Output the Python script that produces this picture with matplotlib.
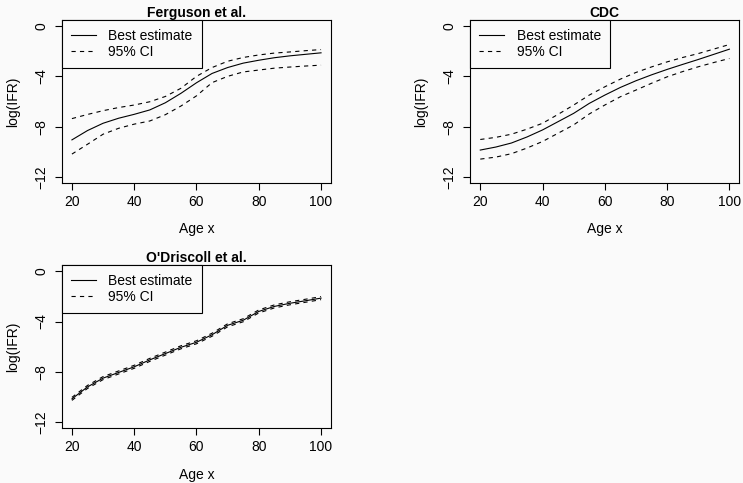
import matplotlib
matplotlib.use("Agg")
import matplotlib.pyplot as plt
import numpy as np

plt.rcParams["font.family"] = ["Liberation Sans", "DejaVu Sans"]
plt.rcParams["font.size"] = 10
plt.rcParams["axes.unicode_minus"] = True

age = [20, 25, 30, 35, 40, 45, 50, 55, 60, 65, 70, 75, 80, 85, 90, 95, 100]

# Ferguson et al.
ferg_best = [-9.05, -8.31, -7.73, -7.33, -7.02, -6.67, -6.10, -5.35, -4.51, -3.77, -3.30, -2.95, -2.72, -2.52, -2.37, -2.25, -2.13]
ferg_hi = [-7.36, -7.03, -6.73, -6.48, -6.28, -6.02, -5.60, -4.95, -4.00, -3.30, -2.80, -2.50, -2.30, -2.15, -2.06, -1.96, -1.87]
ferg_lo = [-10.18, -9.40, -8.60, -8.13, -7.80, -7.55, -7.05, -6.36, -5.55, -4.50, -4.00, -3.65, -3.50, -3.35, -3.26, -3.18, -3.11]

# CDC
cdc_best = [-9.86, -9.62, -9.30, -8.82, -8.26, -7.60, -6.94, -6.15, -5.49, -4.88, -4.35, -3.88, -3.45, -3.05, -2.66, -2.25, -1.84]
cdc_hi = [-9.02, -8.85, -8.60, -8.20, -7.73, -7.02, -6.28, -5.49, -4.83, -4.22, -3.69, -3.25, -2.85, -2.50, -2.19, -1.83, -1.47]
cdc_lo = [-10.58, -10.42, -10.15, -9.70, -9.18, -8.52, -7.86, -6.99, -6.28, -5.62, -5.09, -4.55, -4.04, -3.62, -3.24, -2.90, -2.58]

# O'Driscoll et al. (CI very narrow)
odr_best = [-10.15, -9.20, -8.50, -8.05, -7.60, -7.05, -6.55, -6.05, -5.65, -5.05, -4.30, -3.90, -3.20, -2.80, -2.55, -2.35, -2.14]
odr_hi = [-10.03, -9.08, -8.38, -7.93, -7.48, -6.93, -6.43, -5.93, -5.53, -4.93, -4.18, -3.78, -3.08, -2.68, -2.43, -2.23, -2.02]
odr_lo = [-10.27, -9.32, -8.62, -8.17, -7.72, -7.17, -6.67, -6.17, -5.77, -5.17, -4.42, -4.02, -3.32, -2.92, -2.67, -2.47, -2.26]

panels = [
    ("Ferguson et al.", ferg_best, ferg_hi, ferg_lo, [0.0834, 0.6211, 0.3621, 0.3375]),
    ("CDC", cdc_best, cdc_hi, cdc_lo, [0.6330, 0.6211, 0.3621, 0.3375]),
    ("O'Driscoll et al.", odr_best, odr_hi, odr_lo, [0.0834, 0.1135, 0.3621, 0.3375]),
]

BG = "#fafafa"
fig = plt.figure(figsize=(7.43, 4.83), dpi=100, facecolor=BG)
DASH = (3.8, 3.8)

for title, best, hi, lo, rect in panels:
    ax = fig.add_axes(rect, facecolor=BG)
    ax.plot(age, best, color="black", lw=0.8, label="Best estimate")
    ax.plot(age, hi, color="black", lw=0.8, dashes=DASH, label="95% CI")
    ax.plot(age, lo, color="black", lw=0.8, dashes=DASH)
    ax.set_xlim(16.8, 103.2)
    ax.set_ylim(-12.48, 0.48)
    ax.set_xticks([20, 40, 60, 80, 100])
    ax.set_yticks([0, -4, -8, -12])
    for s in ax.spines.values():
        s.set_linewidth(0.8)
        s.set_color("black")
    ax.tick_params(axis="both", direction="out", length=4.7, width=0.8, labelsize=10)
    ax.tick_params(axis="x", pad=4)
    ax.tick_params(axis="y", pad=5.2)
    for lab in ax.get_yticklabels():
        lab.set_rotation(90)
        lab.set_va("center")
    ax.set_title(title, fontweight="bold", fontsize=10, pad=1.5)
    ax.set_xlabel("Age x")
    ax.set_ylabel("log(IFR)")
    ax.xaxis.set_label_coords(0.5, -0.285)
    ax.xaxis.label.set_va("center")
    ax.yaxis.set_label_coords(-0.183, 0.5)
    ax.yaxis.label.set_va("center")
    leg = ax.legend(loc="upper left", borderaxespad=0, fancybox=False,
                    edgecolor="black", framealpha=1, facecolor=BG,
                    handlelength=1.8, handletextpad=0.9, borderpad=0.65,
                    labelspacing=0.15)
    leg.get_frame().set_linewidth(0.8)

fig.savefig("out.png", dpi=100, facecolor=BG)
